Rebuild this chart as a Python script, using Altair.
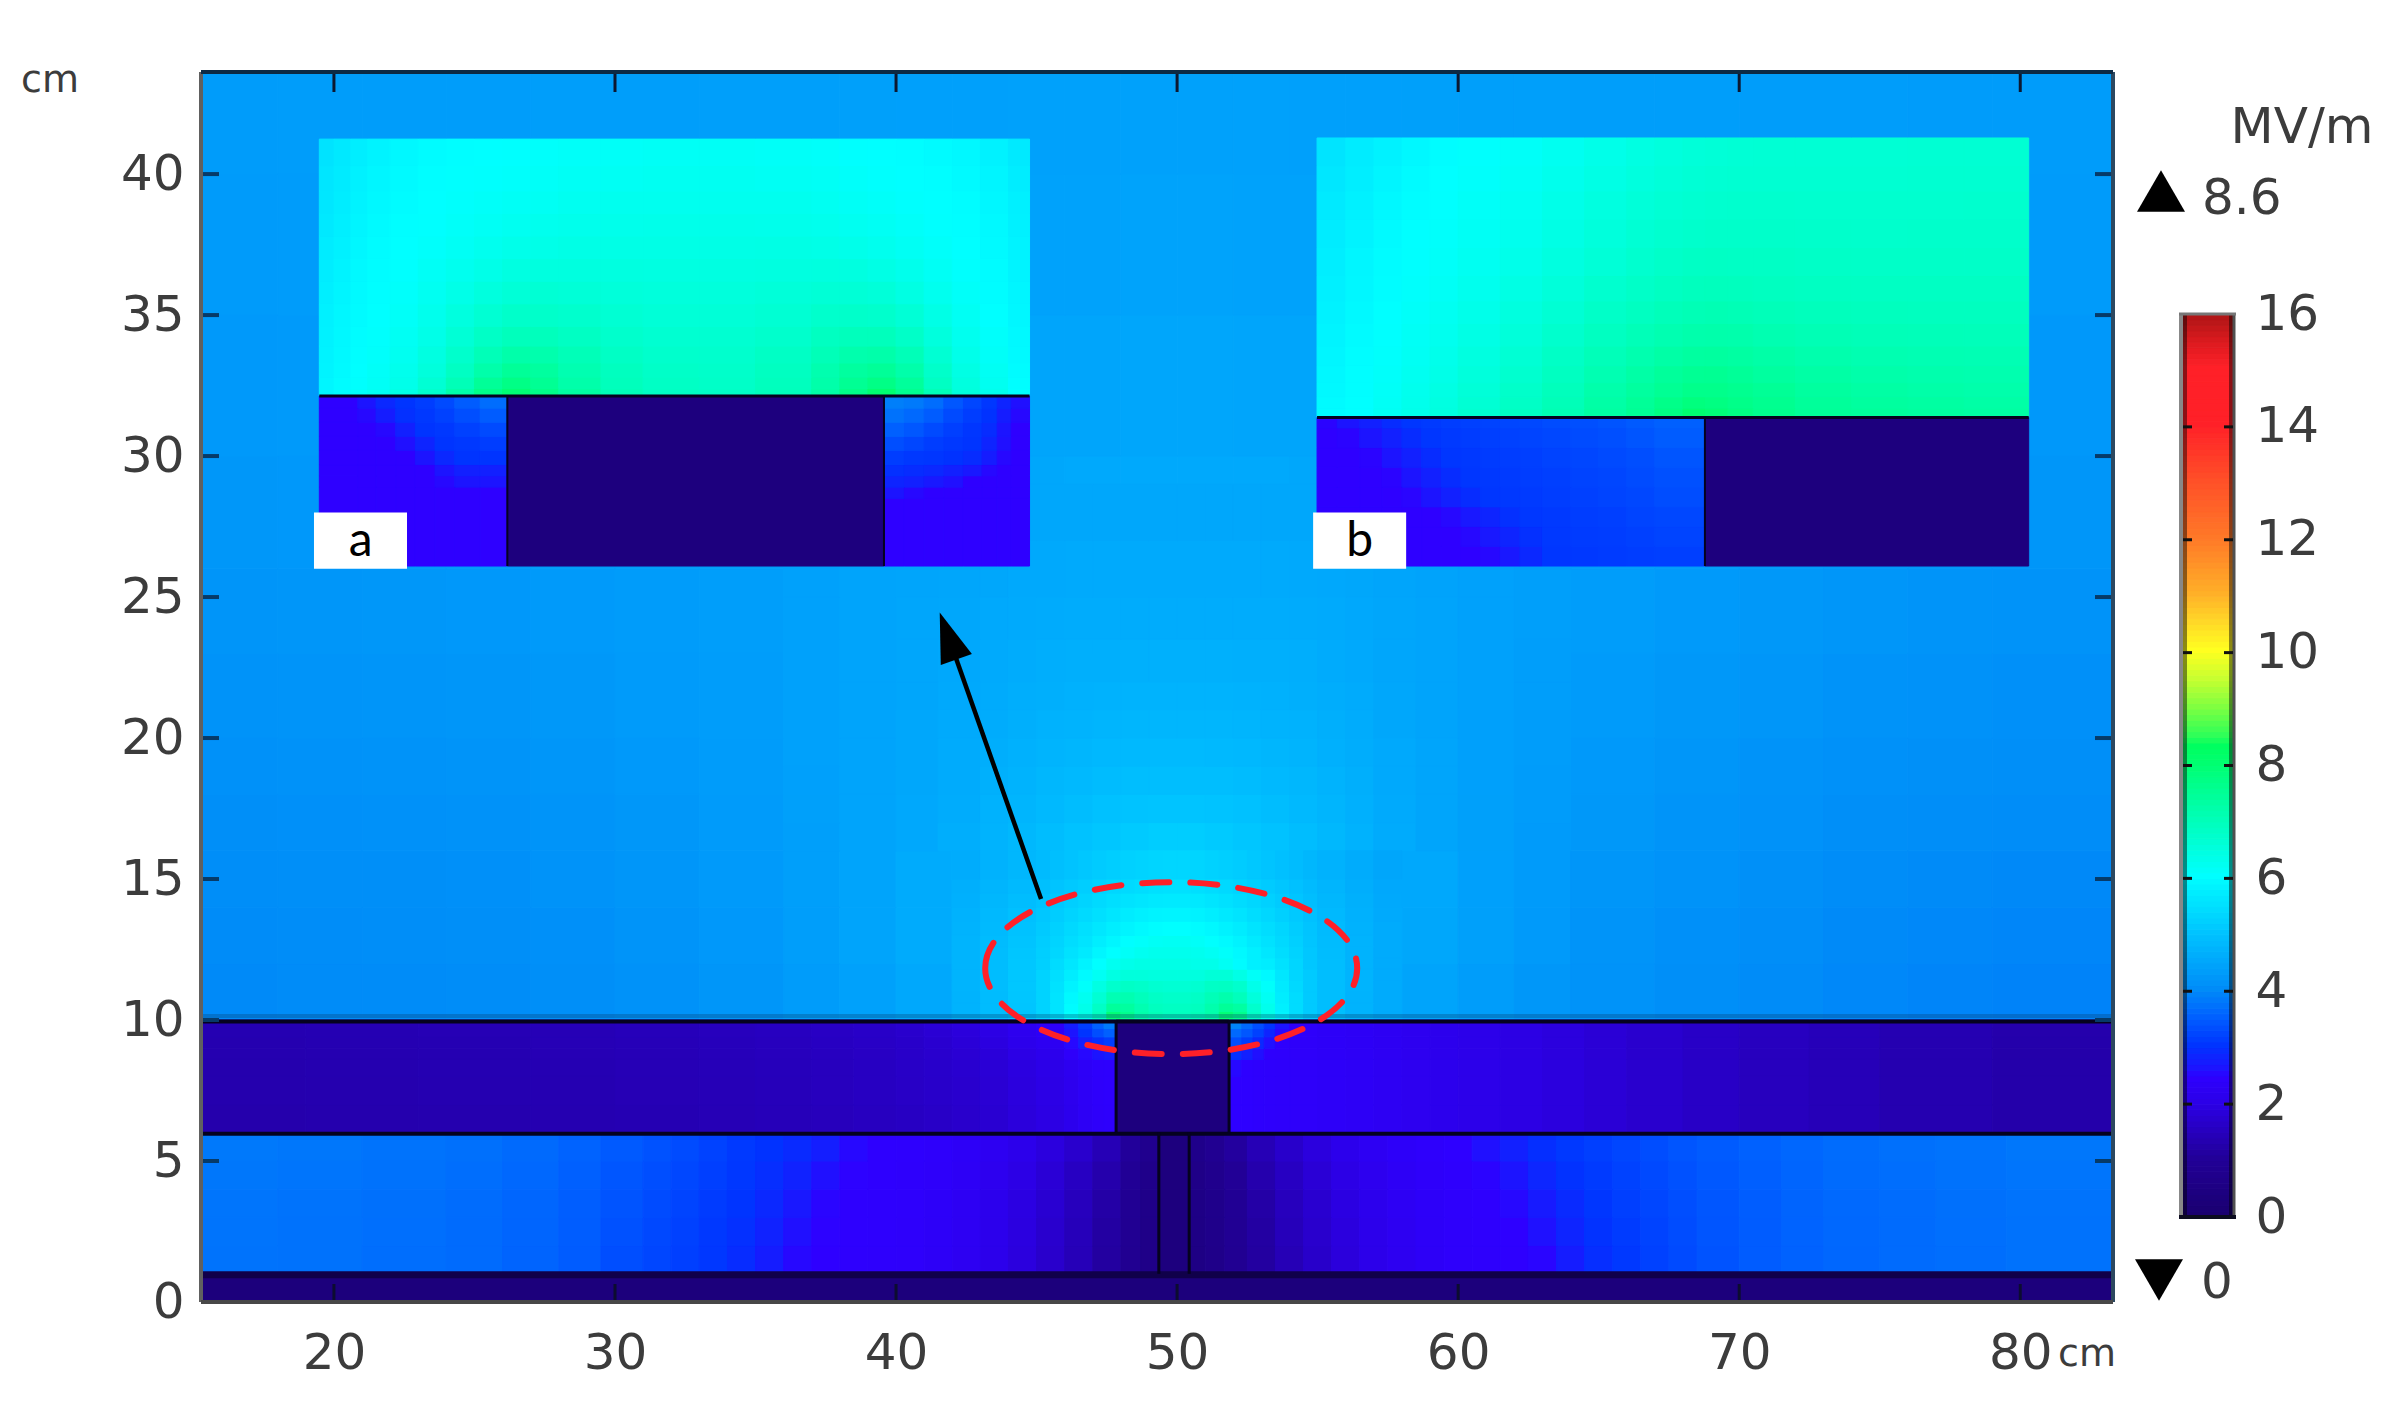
import altair as alt
import pandas as pd

# ---- colour ramp (MV/m -> colour)
STOPS = [0, 1, 2, 2.45, 2.55, 3, 3.5, 4, 5, 6, 7, 8, 8.3, 8.5, 9, 9.5, 10, 10.5, 11, 12, 13, 14, 15, 15.5, 16]
COLORS = ["#1a0070", "#220098", "#2c00e8", "#2e00ff", "#2010ff", "#0034ff", "#0060ff", "#008cf8", "#00c4ff", "#00ffff",
          "#00ffb8", "#00ff70", "#00ff60", "#30ff58", "#80ff40", "#c8ff30", "#ffff20", "#ffd828", "#ffb028", "#ff7828",
          "#ff5028", "#ff2028", "#ff2028", "#d81a1e", "#a81515"]

# ---- far field of the air region
AIR_X = [15.27, 18, 21, 24, 27, 30, 33, 36, 38, 40, 42, 44, 46, 48, 50, 52, 54, 56, 58, 60, 62, 64, 67, 70, 73, 76, 79, 83.3]
AIR_Y = [10, 12, 14, 16, 18, 20, 23, 26, 30, 35, 40, 43.62]
AIR_V = [
 [3.98,4.0,4.0,4.02,4.05,4.1,4.18,4.28,4.38,4.5,4.68,5.0,5.8,6.3,6.3,5.8,5.0,4.65,4.42,4.3,4.2,4.12,4.05,4.0,3.95,3.92,3.9],
 [4.0,4.02,4.03,4.05,4.08,4.14,4.22,4.32,4.42,4.55,4.75,5.1,5.6,5.9,5.9,5.6,5.1,4.72,4.48,4.35,4.25,4.15,4.08,4.03,3.98,3.95,3.93],
 [4.03,4.05,4.06,4.08,4.12,4.17,4.25,4.34,4.43,4.55,4.72,4.95,5.2,5.35,5.35,5.2,4.95,4.7,4.5,4.36,4.27,4.18,4.12,4.07,4.02,3.99,3.97],
 [4.06,4.08,4.09,4.11,4.15,4.2,4.27,4.35,4.43,4.53,4.66,4.8,4.95,5.05,5.05,4.95,4.8,4.65,4.5,4.38,4.29,4.21,4.15,4.1,4.06,4.03,4.01],
 [4.09,4.11,4.12,4.15,4.18,4.23,4.29,4.37,4.43,4.51,4.6,4.7,4.8,4.87,4.87,4.8,4.7,4.6,4.48,4.39,4.31,4.24,4.18,4.13,4.09,4.07,4.05],
 [4.12,4.14,4.16,4.18,4.21,4.26,4.31,4.38,4.43,4.49,4.55,4.62,4.68,4.72,4.72,4.68,4.62,4.55,4.47,4.39,4.33,4.27,4.21,4.17,4.13,4.1,4.08],
 [4.16,4.18,4.2,4.22,4.25,4.29,4.33,4.38,4.42,4.47,4.51,4.55,4.58,4.6,4.6,4.58,4.55,4.5,4.45,4.4,4.35,4.3,4.25,4.21,4.18,4.15,4.13],
 [4.2,4.22,4.23,4.25,4.28,4.31,4.34,4.38,4.41,4.44,4.47,4.49,4.51,4.52,4.52,4.51,4.49,4.46,4.42,4.39,4.35,4.32,4.28,4.25,4.22,4.2,4.18],
 [4.24,4.25,4.26,4.28,4.3,4.32,4.34,4.37,4.39,4.41,4.43,4.44,4.45,4.46,4.46,4.45,4.44,4.42,4.4,4.37,4.35,4.32,4.3,4.28,4.26,4.24,4.22],
 [4.27,4.28,4.29,4.3,4.31,4.33,4.34,4.36,4.37,4.38,4.39,4.4,4.4,4.41,4.41,4.4,4.4,4.38,4.37,4.36,4.34,4.33,4.31,4.3,4.28,4.27,4.26],
 [4.29,4.3,4.3,4.31,4.32,4.33,4.34,4.34,4.35,4.36,4.36,4.37,4.37,4.37,4.37,4.37,4.36,4.36,4.35,4.34,4.34,4.33,4.32,4.31,4.3,4.29,4.28],
]

# ---- finer readings above the plume
NEAR_X = [36,38,40,41.5,43,44,45,46,47,48,49,50,51,52,53,54,55,56,57,58.5,60,62,64]
NEAR_Y = [16,17,18,19,20,21,22,23.5,25,27,29]
NEAR_V = [
 [4.34,4.42,4.5,4.6,4.7,4.78,4.87,4.96,5.04,5.1,5.15,5.15,5.1,5.04,4.96,4.87,4.78,4.68,4.56,4.45,4.35,4.27],
 [4.35,4.42,4.5,4.58,4.67,4.74,4.81,4.88,4.94,4.98,5.0,5.0,4.98,4.94,4.88,4.81,4.73,4.65,4.54,4.44,4.35,4.28],
 [4.36,4.43,4.49,4.56,4.64,4.7,4.76,4.81,4.86,4.89,4.9,4.9,4.89,4.86,4.81,4.76,4.69,4.62,4.52,4.44,4.36,4.29],
 [4.37,4.43,4.49,4.55,4.61,4.66,4.71,4.75,4.79,4.81,4.82,4.82,4.81,4.79,4.75,4.71,4.65,4.59,4.51,4.44,4.36,4.3],
 [4.37,4.43,4.48,4.53,4.58,4.63,4.67,4.7,4.73,4.75,4.75,4.75,4.75,4.73,4.7,4.67,4.62,4.57,4.49,4.43,4.36,4.31],
 [4.38,4.43,4.47,4.52,4.56,4.6,4.63,4.66,4.68,4.7,4.7,4.7,4.7,4.68,4.66,4.63,4.59,4.55,4.48,4.43,4.37,4.32],
 [4.38,4.43,4.47,4.5,4.54,4.57,4.6,4.62,4.63,4.64,4.64,4.64,4.64,4.63,4.62,4.6,4.56,4.52,4.47,4.42,4.37,4.33],
 [4.38,4.42,4.46,4.49,4.52,4.54,4.56,4.57,4.58,4.58,4.58,4.58,4.58,4.58,4.57,4.56,4.53,4.5,4.46,4.42,4.37,4.34],
 [4.38,4.42,4.45,4.47,4.49,4.51,4.52,4.53,4.53,4.53,4.53,4.53,4.53,4.53,4.53,4.52,4.5,4.48,4.45,4.41,4.37,4.34],
 [4.38,4.41,4.44,4.46,4.47,4.48,4.49,4.49,4.49,4.49,4.49,4.49,4.49,4.49,4.49,4.48,4.47,4.46,4.43,4.4,4.37,4.34],
]

# ---- plume above the central block
PLUME_X = [42,43,44,45,45.5,46,46.5,47,47.5,48,48.5,49,49.5,50,50.5,51,51.5,52,52.5,53,53.5,54,54.5,55,56,57,58]
PLUME_Y = [10,10.3,10.6,11,11.4,11.8,12.2,12.6,13,13.5,14,14.5,15,16]
PLUME_V = [
 [4.7,4.85,5.0,5.25,5.55,6.0,6.35,6.9,7.9,7.6,7.2,7.0,6.9,6.9,7.0,7.2,7.9,7.6,6.8,6.3,5.8,5.4,5.1,4.9,4.7,4.55],
 [4.7,4.85,5.02,5.25,5.55,5.95,6.3,6.8,7.4,7.35,7.1,6.9,6.85,6.85,6.9,7.15,7.45,7.3,6.7,6.25,5.75,5.4,5.1,4.9,4.7,4.55],
 [4.7,4.85,5.03,5.25,5.55,5.9,6.2,6.6,7.05,7.1,6.95,6.8,6.75,6.75,6.8,7.0,7.15,6.95,6.5,6.15,5.7,5.4,5.1,4.9,4.7,4.55],
 [4.72,4.87,5.05,5.25,5.5,5.8,6.05,6.4,6.7,6.8,6.75,6.65,6.6,6.6,6.65,6.8,6.85,6.7,6.3,6.05,5.65,5.35,5.1,4.9,4.72,4.55],
 [4.72,4.88,5.05,5.25,5.45,5.7,5.92,6.15,6.4,6.5,6.5,6.45,6.45,6.45,6.45,6.55,6.55,6.35,6.1,5.9,5.6,5.3,5.1,4.9,4.72,4.55],
 [4.72,4.88,5.05,5.2,5.4,5.6,5.8,6.0,6.2,6.3,6.35,6.35,6.35,6.35,6.3,6.3,6.15,5.95,5.75,5.7,5.5,5.3,5.05,4.9,4.7,4.55],
 [4.72,4.87,5.03,5.18,5.32,5.5,5.65,5.85,6.0,6.1,6.2,6.25,6.25,6.25,6.22,6.15,6.05,5.9,5.75,5.6,5.42,5.25,5.05,4.88,4.7,4.55],
 [4.72,4.85,5.0,5.15,5.27,5.42,5.55,5.72,5.85,5.98,6.05,6.12,6.15,6.15,6.1,6.02,5.92,5.8,5.65,5.5,5.35,5.2,5.02,4.86,4.7,4.55],
 [4.7,4.83,4.97,5.1,5.22,5.35,5.47,5.6,5.72,5.82,5.9,5.96,6.0,6.0,5.95,5.88,5.78,5.68,5.55,5.42,5.3,5.15,5.0,4.84,4.68,4.55],
 [4.68,4.8,4.93,5.05,5.15,5.27,5.38,5.48,5.58,5.67,5.74,5.8,5.82,5.82,5.78,5.72,5.63,5.54,5.43,5.32,5.2,5.08,4.95,4.8,4.66,4.53],
 [4.65,4.77,4.88,4.99,5.08,5.18,5.27,5.37,5.45,5.52,5.58,5.63,5.65,5.65,5.62,5.56,5.49,5.41,5.32,5.22,5.12,5.02,4.9,4.77,4.64,4.52],
 [4.62,4.73,4.83,4.92,5.0,5.09,5.17,5.25,5.32,5.38,5.43,5.47,5.49,5.49,5.46,5.41,5.35,5.28,5.2,5.12,5.03,4.94,4.84,4.73,4.61,4.5],
 [4.58,4.67,4.76,4.84,4.91,4.98,5.05,5.12,5.17,5.22,5.26,5.28,5.3,5.3,5.28,5.24,5.19,5.14,5.07,5.0,4.93,4.85,4.76,4.67,4.57,4.47],
]

# ---- dielectric layer 6-10 cm, left and right of the block
MIDL_X = [15.27,19,23,27,30,33,35,37,38.5,40,41,42,43,44,45,46,46.5,47,47.4,47.83]
MIDR_X = [51.85,52.3,52.7,53.1,53.5,54,55,56,57,58,59,60,61.5,63,64.5,66,68,70,72.5,75,79,83.3]
MID_Y = [6,7,8,8.6,9,9.4,9.7,10]
MIDL_V = [
 [1.25,1.27,1.29,1.31,1.34,1.37,1.41,1.45,1.5,1.54,1.59,1.65,1.72,1.85,1.95,2.1,2.25,2.35,2.4],
 [1.27,1.29,1.31,1.33,1.36,1.39,1.43,1.47,1.52,1.57,1.62,1.68,1.75,1.88,1.98,2.12,2.27,2.37,2.42],
 [1.28,1.3,1.32,1.34,1.37,1.4,1.44,1.48,1.53,1.59,1.64,1.7,1.78,1.9,2.0,2.15,2.3,2.4,2.42],
 [1.3,1.31,1.33,1.36,1.39,1.42,1.46,1.5,1.55,1.61,1.67,1.75,1.83,1.97,2.1,2.35,2.5,2.6,2.7],
 [1.3,1.32,1.34,1.37,1.4,1.44,1.48,1.52,1.57,1.63,1.7,1.8,1.9,2.07,2.2,2.5,2.75,2.95,3.1],
 [1.32,1.34,1.36,1.38,1.42,1.46,1.5,1.55,1.6,1.66,1.75,1.85,1.96,2.13,2.3,2.6,3.0,3.3,3.5],
 [1.33,1.35,1.38,1.4,1.44,1.48,1.53,1.58,1.63,1.7,1.8,1.9,2.0,2.2,2.35,2.7,3.1,3.5,3.8],
]
MIDR_V = [
 [2.45,2.45,2.42,2.4,2.38,2.35,2.32,2.28,2.22,2.16,2.1,2.03,1.95,1.87,1.78,1.68,1.58,1.48,1.4,1.3,1.22],
 [2.45,2.45,2.42,2.4,2.38,2.35,2.32,2.28,2.22,2.16,2.1,2.03,1.95,1.87,1.78,1.68,1.58,1.48,1.4,1.3,1.22],
 [2.5,2.45,2.42,2.4,2.38,2.35,2.32,2.28,2.22,2.16,2.1,2.03,1.95,1.87,1.78,1.68,1.58,1.48,1.4,1.3,1.22],
 [2.95,2.75,2.55,2.42,2.4,2.35,2.32,2.28,2.22,2.16,2.1,2.03,1.95,1.87,1.78,1.68,1.58,1.48,1.4,1.31,1.23],
 [3.3,3.1,2.85,2.55,2.42,2.35,2.32,2.28,2.22,2.16,2.1,2.03,1.95,1.87,1.78,1.68,1.59,1.49,1.41,1.31,1.24],
 [3.6,3.4,3.15,2.8,2.5,2.38,2.32,2.28,2.22,2.16,2.1,2.03,1.95,1.87,1.78,1.69,1.59,1.5,1.42,1.32,1.25],
 [3.9,3.6,3.3,3.0,2.6,2.4,2.32,2.28,2.22,2.16,2.1,2.03,1.95,1.87,1.78,1.7,1.6,1.51,1.43,1.33,1.26],
]

# ---- gas gap 1-6 cm, left and right of the posts
LOWL_X = [15.27,18,21,24,26,28,29.5,31,32,33,34,35,36,37,38,39,40,41,42,43,44,45,46,47,48,48.7,49.35]
LOWR_X = [50.43,51,51.7,52.5,53.5,54.5,55.5,56.5,57.5,58.5,59.5,60.5,61.5,62.5,63.5,64.5,65.5,66.5,67.5,68.5,70,71.5,73,75,77,79.5,83.3]
LOW_Y = [1,2,3,4,5,6]
LOWL_V = [
 [3.72,3.7,3.66,3.62,3.55,3.45,3.3,3.2,3.12,3.03,2.9,2.7,2.5,2.45,2.42,2.4,2.37,2.3,2.2,2.05,1.88,1.65,1.4,1.1,0.82,0.6],
 [3.73,3.71,3.67,3.63,3.56,3.47,3.33,3.23,3.15,3.05,2.95,2.78,2.55,2.46,2.43,2.41,2.38,2.31,2.22,2.07,1.9,1.68,1.42,1.12,0.84,0.6],
 [3.74,3.72,3.68,3.64,3.57,3.48,3.36,3.26,3.18,3.08,3.0,2.85,2.65,2.48,2.44,2.42,2.39,2.33,2.24,2.1,1.93,1.72,1.46,1.17,0.87,0.62],
 [3.76,3.74,3.7,3.66,3.59,3.5,3.39,3.3,3.22,3.12,3.03,2.92,2.78,2.55,2.46,2.43,2.4,2.35,2.27,2.14,1.98,1.78,1.53,1.25,0.92,0.66],
 [3.78,3.76,3.72,3.68,3.61,3.53,3.43,3.34,3.26,3.16,3.06,2.98,2.88,2.72,2.5,2.44,2.41,2.37,2.3,2.2,2.06,1.88,1.66,1.38,1.02,0.74],
]
LOWR_V = [
 [0.5,0.62,0.85,1.1,1.38,1.62,1.85,2.03,2.18,2.3,2.37,2.4,2.43,2.48,2.7,2.92,3.05,3.15,3.25,3.35,3.45,3.52,3.58,3.62,3.66,3.7],
 [0.52,0.65,0.87,1.13,1.42,1.66,1.88,2.05,2.2,2.31,2.38,2.41,2.45,2.56,2.8,2.97,3.08,3.17,3.27,3.37,3.46,3.53,3.59,3.63,3.67,3.71],
 [0.55,0.68,0.9,1.18,1.46,1.7,1.92,2.09,2.23,2.33,2.4,2.43,2.5,2.68,2.88,3.02,3.12,3.2,3.3,3.39,3.47,3.54,3.6,3.64,3.68,3.72],
 [0.58,0.72,0.96,1.26,1.52,1.77,1.98,2.14,2.27,2.36,2.42,2.47,2.6,2.82,2.97,3.07,3.16,3.24,3.33,3.41,3.49,3.56,3.62,3.66,3.7,3.74],
 [0.66,0.82,1.08,1.38,1.64,1.88,2.08,2.22,2.33,2.39,2.45,2.55,2.75,2.93,3.04,3.13,3.21,3.28,3.37,3.44,3.51,3.58,3.64,3.68,3.72,3.76],
]

# ---- uniform solid parts: x0, x1, y0, y1, value
SOLIDS = [
 [15.27,83.3,0,1,0.3],
 [47.83,51.85,6,10,0.35],
 [49.35,50.43,1,6,0.35],
 [26.17,39.57,26.1,32.13,0.35],
 [68.78,80.3,26.1,31.37,0.35],
]

# ---- inset a
INA_X = [19.48,20.0,20.6,21.2,22,23,24,25,26,27,28,29.5,31,33,35,37,38,39,40,41,42,43,44,44.75]
INA_Y = [32.13,32.4,32.8,33.3,33.9,34.6,35.4,36.2,37,37.8,38.6,39.4,40.3,41.24]
INA_V = [
 [5.85,5.95,6.05,6.15,6.35,6.7,7.2,7.65,7.95,7.65,7.3,7.0,6.85,6.8,6.95,7.25,7.65,8.0,7.55,7.0,6.5,6.25,6.0],
 [5.85,5.95,6.03,6.13,6.3,6.6,7.0,7.45,7.7,7.5,7.2,6.95,6.82,6.78,6.92,7.2,7.5,7.7,7.4,6.85,6.45,6.2,5.98],
 [5.82,5.92,6.0,6.1,6.25,6.5,6.85,7.2,7.45,7.35,7.1,6.9,6.78,6.75,6.88,7.12,7.35,7.45,7.2,6.75,6.38,6.15,5.95],
 [5.8,5.9,5.98,6.06,6.2,6.42,6.72,7.0,7.2,7.15,7.0,6.82,6.72,6.7,6.82,7.0,7.15,7.2,7.0,6.62,6.3,6.1,5.92],
 [5.78,5.88,5.96,6.03,6.15,6.33,6.58,6.8,6.95,6.95,6.85,6.72,6.65,6.65,6.72,6.88,6.95,6.95,6.78,6.48,6.22,6.05,5.9],
 [5.76,5.86,5.94,6.0,6.1,6.25,6.45,6.62,6.75,6.75,6.7,6.62,6.57,6.57,6.62,6.72,6.75,6.72,6.58,6.35,6.15,6.0,5.87],
 [5.73,5.83,5.92,5.98,6.05,6.18,6.33,6.47,6.57,6.6,6.57,6.52,6.5,6.5,6.53,6.58,6.58,6.53,6.4,6.23,6.08,5.97,5.84],
 [5.7,5.8,5.9,5.97,6.02,6.12,6.23,6.33,6.42,6.45,6.45,6.43,6.42,6.42,6.44,6.45,6.43,6.37,6.27,6.14,6.03,5.95,5.82],
 [5.67,5.77,5.87,5.95,6.0,6.06,6.14,6.22,6.3,6.33,6.35,6.35,6.35,6.35,6.36,6.34,6.3,6.24,6.16,6.07,6.0,5.92,5.8],
 [5.63,5.73,5.83,5.92,5.98,6.02,6.08,6.14,6.2,6.24,6.27,6.28,6.29,6.29,6.28,6.25,6.2,6.15,6.09,6.02,5.98,5.9,5.77],
 [5.6,5.7,5.8,5.88,5.95,6.0,6.04,6.08,6.12,6.16,6.2,6.22,6.23,6.23,6.22,6.18,6.13,6.08,6.03,6.0,5.96,5.87,5.74],
 [5.57,5.66,5.76,5.84,5.92,5.98,6.01,6.03,6.06,6.1,6.14,6.16,6.18,6.18,6.16,6.12,6.07,6.03,6.0,5.98,5.92,5.83,5.7],
 [5.53,5.62,5.72,5.8,5.88,5.95,5.99,6.0,6.02,6.05,6.08,6.1,6.12,6.12,6.1,6.07,6.02,6.0,5.98,5.94,5.88,5.78,5.65],
]
INAL_X = [19.48,20.85,21.5,22.2,22.9,23.6,24.3,25.2,26.17]
INAL_Y = [26.1,28.9,29.3,29.7,30.2,30.7,31.2,31.7,32.13]
INAL_V = [
 [2.45,2.45,2.45,2.45,2.45,2.45,2.45,2.45],
 [2.45,2.45,2.45,2.45,2.45,2.5,2.6,2.6],
 [2.45,2.45,2.45,2.45,2.45,2.6,2.75,2.75],
 [2.45,2.45,2.45,2.45,2.6,2.85,3.0,3.0],
 [2.45,2.45,2.45,2.55,2.8,3.0,3.05,3.1],
 [2.45,2.45,2.5,2.75,3.0,3.05,3.15,3.25],
 [2.45,2.5,2.7,2.95,3.05,3.15,3.3,3.45],
 [2.45,2.6,2.85,3.0,3.1,3.25,3.45,3.65],
]
INAR_X = [39.57,40.3,41,41.7,42.4,43.06,43.6,44.1,44.75]
INAR_Y = [26.1,28.5,28.9,29.3,29.7,30.2,30.7,31.2,31.7,32.13]
INAR_V = [
 [2.45,2.45,2.45,2.45,2.45,2.45,2.45,2.45],
 [2.6,2.5,2.45,2.45,2.45,2.45,2.45,2.45],
 [2.8,2.75,2.65,2.55,2.45,2.45,2.45,2.45],
 [2.95,2.9,2.85,2.75,2.65,2.5,2.45,2.45],
 [3.1,3.05,3.02,2.98,2.9,2.7,2.5,2.45],
 [3.3,3.2,3.1,3.05,3.0,2.8,2.55,2.45],
 [3.5,3.4,3.25,3.12,3.02,2.9,2.6,2.45],
 [3.7,3.6,3.45,3.25,3.1,2.98,2.7,2.5],
 [3.85,3.8,3.65,3.4,3.2,3.03,2.8,2.55],
]

# ---- inset b
INB_X = [54.98,56,57,58,59,60,61.5,63,64.5,66,67,68,68.8,69.6,70.5,72,74,76,78,80.3]
INB_Y = [31.37,31.7,32.1,32.6,33.2,33.9,34.7,35.5,36.4,37.4,38.4,39.4,40.3,41.28]
INB_V = [
 [5.95,6.0,6.15,6.3,6.45,6.65,6.85,7.05,7.3,7.5,7.75,8.0,7.9,7.75,7.6,7.45,7.4,7.35,7.3],
 [5.93,6.0,6.12,6.27,6.42,6.6,6.8,7.0,7.25,7.45,7.65,7.8,7.75,7.65,7.55,7.42,7.35,7.3,7.25],
 [5.9,5.99,6.1,6.24,6.38,6.55,6.75,6.95,7.18,7.35,7.5,7.62,7.62,7.55,7.47,7.35,7.28,7.22,7.18],
 [5.88,5.98,6.07,6.2,6.33,6.5,6.68,6.88,7.08,7.25,7.4,7.5,7.52,7.45,7.35,7.27,7.2,7.15,7.12],
 [5.85,5.96,6.04,6.15,6.28,6.44,6.6,6.8,6.98,7.13,7.25,7.33,7.35,7.3,7.23,7.15,7.1,7.07,7.05],
 [5.82,5.93,6.02,6.12,6.22,6.37,6.52,6.7,6.87,7.0,7.1,7.17,7.18,7.16,7.1,7.04,7.0,6.98,6.97],
 [5.78,5.9,6.0,6.08,6.18,6.3,6.45,6.6,6.77,6.88,6.97,7.03,7.05,7.03,6.98,6.94,6.91,6.9,6.9],
 [5.75,5.87,5.97,6.04,6.13,6.24,6.38,6.52,6.67,6.78,6.86,6.91,6.93,6.92,6.89,6.86,6.84,6.84,6.84],
 [5.72,5.84,5.95,6.02,6.09,6.18,6.3,6.44,6.57,6.68,6.76,6.81,6.83,6.82,6.81,6.79,6.78,6.78,6.78],
 [5.68,5.8,5.92,6.0,6.05,6.14,6.24,6.37,6.5,6.6,6.67,6.72,6.74,6.75,6.74,6.73,6.72,6.73,6.73],
 [5.64,5.76,5.88,5.97,6.02,6.1,6.19,6.31,6.43,6.53,6.6,6.65,6.68,6.69,6.69,6.68,6.68,6.68,6.69],
 [5.6,5.72,5.83,5.93,6.0,6.06,6.14,6.25,6.37,6.47,6.54,6.59,6.62,6.64,6.64,6.64,6.64,6.65,6.65],
 [5.55,5.68,5.78,5.88,5.97,6.03,6.1,6.2,6.31,6.41,6.48,6.53,6.57,6.59,6.6,6.6,6.6,6.62,6.62],
]
INBL_X = [54.98,55.7,56.5,57.3,58,58.7,59.4,60.1,60.8,61.5,62.2,63,64,65,66,67,68.78]
INBL_Y = [26.1,26.8,27.5,28.2,28.9,29.6,30.3,31,31.37]
INBL_V = [
 [2.45,2.45,2.45,2.45,2.45,2.45,2.45,2.45,2.5,2.65,2.85,3.02,3.05,3.08,3.1,3.12],
 [2.45,2.45,2.45,2.45,2.45,2.45,2.45,2.5,2.65,2.8,2.95,3.05,3.08,3.1,3.14,3.18],
 [2.45,2.45,2.45,2.45,2.45,2.45,2.5,2.65,2.8,2.95,3.03,3.06,3.1,3.13,3.18,3.22],
 [2.45,2.45,2.45,2.45,2.48,2.6,2.75,2.9,3.02,3.05,3.07,3.1,3.14,3.18,3.22,3.28],
 [2.45,2.45,2.45,2.47,2.6,2.75,2.9,3.02,3.05,3.07,3.1,3.13,3.17,3.21,3.26,3.32],
 [2.45,2.45,2.47,2.6,2.75,2.9,3.02,3.05,3.08,3.1,3.13,3.17,3.2,3.25,3.3,3.38],
 [2.45,2.47,2.6,2.75,2.9,3.02,3.06,3.09,3.12,3.15,3.18,3.22,3.26,3.31,3.37,3.45],
 [2.47,2.6,2.75,2.9,3.02,3.07,3.1,3.14,3.17,3.2,3.23,3.27,3.31,3.36,3.43,3.5],
]

X_TICKS = [20, 30, 40, 50, 60, 70, 80]
Y_TICKS = [0, 5, 10, 15, 20, 25, 30, 35, 40]
BAR_TICKS = [0, 2, 4, 6, 8, 10, 12, 14, 16]
BAR_INNER_TICKS = [2, 4, 6, 8, 10, 12, 14]

# structural lines: x0, x1, y0, y1, stroke width
STRUCT = [
 [15.27,83.3,9.95,9.95,4], [15.27,83.3,5.97,5.97,4],
 [47.83,47.83,6,10,3], [51.85,51.85,6,10,3],
 [49.35,49.35,1,6,3], [50.43,50.43,1,6,3],
 [19.48,44.75,32.13,32.13,3], [26.17,26.17,26.1,32.13,2], [39.57,39.57,26.1,32.13,2],
 [54.98,80.3,31.37,31.37,3], [68.78,68.78,26.1,31.37,2],
]


def cells(xs, ys, rows):
    assert len(rows) == len(ys) - 1, (len(rows), len(ys))
    out = []
    for j, row in enumerate(rows):
        assert len(row) == len(xs) - 1, (j, len(row), len(xs))
        for i, v in enumerate(row):
            out.append({"x0": xs[i], "x1": xs[i + 1], "y0": ys[j], "y1": ys[j + 1], "v": v})
    return out


rows = []
for xs, ys, vs in [(AIR_X, AIR_Y, AIR_V), (NEAR_X, NEAR_Y, NEAR_V), (PLUME_X, PLUME_Y, PLUME_V),
                   (MIDL_X, MID_Y, MIDL_V), (MIDR_X, MID_Y, MIDR_V),
                   (LOWL_X, LOW_Y, LOWL_V), (LOWR_X, LOW_Y, LOWR_V),
                   (INA_X, INA_Y, INA_V), (INAL_X, INAL_Y, INAL_V), (INAR_X, INAR_Y, INAR_V),
                   (INB_X, INB_Y, INB_V), (INBL_X, INBL_Y, INBL_V)]:
    rows += cells(xs, ys, vs)
for x0, x1, y0, y1, v in SOLIDS:
    rows.append({"x0": x0, "x1": x1, "y0": y0, "y1": y1, "v": v})
field = pd.DataFrame(rows)

XS = alt.Scale(domain=[15.27, 83.3], nice=False, zero=False)
YS = alt.Scale(domain=[0, 43.62], nice=False, zero=False)
CS = alt.Scale(domain=STOPS, range=COLORS, interpolate="rgb", clamp=True)
FONT = "DejaVu Sans"
TXT = "#3c3c3c"
PW, PH = 1912, 1230

heat = alt.Chart(field).mark_rect(strokeWidth=1).encode(
    x=alt.X("x0:Q", scale=XS, title=None,
            axis=alt.Axis(values=X_TICKS, ticks=False, domain=False, grid=False, labelFont=FONT, labelFontSize=50,
                          labelColor=TXT, labelPadding=26, labelFlush=False, labelOverlap=False)),
    x2="x1:Q",
    y=alt.Y("y0:Q", scale=YS, title=None,
            axis=alt.Axis(values=Y_TICKS, ticks=False, domain=False, grid=False, labelFont=FONT, labelFontSize=50,
                          labelColor=TXT, labelPadding=17, labelFlush=False, labelOverlap=False)),
    y2="y1:Q",
    color=alt.Color("v:Q", scale=CS, legend=None),
    stroke=alt.Stroke("v:Q", scale=CS, legend=None),
)


def X(f):
    return alt.X(f, scale=XS, axis=None)


def Y(f):
    return alt.Y(f, scale=YS, axis=None)


struct_df = pd.DataFrame(STRUCT, columns=["x0", "x1", "y0", "y1", "w"])
struct = alt.Chart(struct_df).mark_rule(color="#05021f").encode(
    x=X("x0:Q"), x2="x1:Q", y=Y("y0:Q"), y2="y1:Q",
    strokeWidth=alt.StrokeWidth("w:Q", scale=None))
base_line = alt.Chart(pd.DataFrame({"y": [0.97]})).mark_rule(color="#10004a", strokeWidth=7).encode(y=Y("y:Q"))
glow10 = alt.Chart(pd.DataFrame({"y": [10.14]})).mark_rule(color="#0a3a66", strokeWidth=4, opacity=0.3).encode(y=Y("y:Q"))

xt = pd.DataFrame({"t": X_TICKS})
yt = pd.DataFrame({"t": Y_TICKS})
ticks_top = alt.Chart(xt).mark_rule(color="#0c1830", strokeWidth=3).encode(x=X("t:Q"), y=alt.value(0), y2=alt.value(20))
ticks_bot = alt.Chart(xt).mark_rule(color="#0c0c30", strokeWidth=3).encode(x=X("t:Q"), y=alt.value(PH - 18), y2=alt.value(PH))
ticks_l = alt.Chart(yt).mark_rule(color="#063a68", strokeWidth=4).encode(y=Y("t:Q"), x=alt.value(0), x2=alt.value(18))
ticks_r = alt.Chart(yt).mark_rule(color="#063a68", strokeWidth=4).encode(y=Y("t:Q"), x=alt.value(PW - 18), x2=alt.value(PW))

frame_t = alt.Chart(pd.DataFrame({"y": [43.62]})).mark_rule(color="#0c2a44", strokeWidth=4).encode(y=Y("y:Q"))
frame_b = alt.Chart(pd.DataFrame({"y": [0]})).mark_rule(color="#484848", strokeWidth=4).encode(y=Y("y:Q"))
frame_l = alt.Chart(pd.DataFrame({"x": [15.27]})).mark_rule(color="#606060", strokeWidth=4).encode(x=X("x:Q"))
frame_r = alt.Chart(pd.DataFrame({"x": [83.3]})).mark_rule(color="#2c4860", strokeWidth=4).encode(x=X("x:Q"))

ELLIPSE = "M-1 0C-1 -0.2554 -0.5523 -0.4624 0 -0.4624C0.5523 -0.4624 1 -0.2554 1 0C1 0.2554 0.5523 0.4624 0 0.4624C-0.5523 0.4624 -1 0.2554 -1 0Z"
ellipse = alt.Chart(pd.DataFrame({"x": [49.79], "y": [11.84]})).mark_point(
    shape=ELLIPSE, size=138384, filled=False, stroke="#ff2028", strokeWidth=6, opacity=1,
    strokeDash=[27, 21], strokeCap="round").encode(x=X("x:Q"), y=Y("y:Q"))

shaft = alt.Chart(pd.DataFrame({"x0": [45.16], "x1": [42.03], "y0": [14.29], "y1": [23.12]})).mark_rule(
    color="black", strokeWidth=4.5).encode(x=X("x0:Q"), x2="x1:Q", y=Y("y0:Q"), y2="y1:Q")
head = alt.Chart(pd.DataFrame({"x": [41.85], "y": [23.62]})).mark_point(
    shape="M0 -1L0.66 1L-0.66 1Z", size=2500, angle=340.6, filled=True, color="black", opacity=1).encode(
    x=X("x:Q"), y=Y("y:Q"))

boxes = alt.Chart(pd.DataFrame({"x0": [19.29, 54.84], "x1": [22.6, 58.15], "y0": [26.0, 26.0], "y1": [28.0, 28.0]})).mark_rect(
    color="white").encode(x=X("x0:Q"), x2="x1:Q", y=Y("y0:Q"), y2="y1:Q")
box_txt = alt.Chart(pd.DataFrame({"x": [20.95, 56.5], "y": [26.95, 26.95], "t": ["a", "b"]})).mark_text(
    font="Lato", fontSize=48, color="black", baseline="middle").encode(x=X("x:Q"), y=Y("y:Q"), text="t:N")


def label(txt, px, py, size, align="center", baseline="alphabetic"):
    return alt.Chart(pd.DataFrame({"t": [txt]})).mark_text(
        font=FONT, fontSize=size, color=TXT, align=align, baseline=baseline).encode(
        x=alt.value(px - 201), y=alt.value(py - 72), text="t:N")


texts = [
    label("cm", 50, 92, 38),
    label("cm", 2087, 1366, 38),
    label("MV/m", 2302, 143, 50),
    label("8.6", 2202, 214, 50, align="left"),
    label("0", 2201, 1298, 50, align="left"),
]
up = alt.Chart(pd.DataFrame({"a": [0]})).mark_point(shape="triangle-up", size=2304, filled=True, color="black", opacity=1).encode(
    x=alt.value(2161 - 201), y=alt.value(191 - 72))
down = alt.Chart(pd.DataFrame({"a": [0]})).mark_point(shape="triangle-down", size=2304, filled=True, color="black", opacity=1).encode(
    x=alt.value(2159 - 201), y=alt.value(1280 - 72))

main = alt.layer(heat, glow10, base_line, struct, ticks_top, ticks_bot, ticks_l, ticks_r,
                 frame_l, frame_r, frame_t, frame_b, ellipse, shaft, head, boxes, box_txt, up, down, *texts
                 ).resolve_axis(x="independent", y="independent")

# ---- colour bar, on its own y scale
BARS = alt.Scale(domain=[0, 16], range=[1145, 242], nice=False, zero=False)
bx0, bx1 = 2183 - 201, 2233 - 201
ramp = alt.Chart(alt.sequence(0, 16, 0.1, as_="v")).transform_calculate(top="datum.v + 0.1").mark_rect(strokeWidth=1).encode(
    x=alt.value(bx0), x2=alt.value(bx1),
    y=alt.Y("v:Q", scale=BARS, title=None,
            axis=alt.Axis(orient="right", offset=142, values=BAR_TICKS, ticks=False, domain=False, grid=False,
                          labelFont=FONT, labelFontSize=50, labelColor=TXT, labelPadding=0, labelOverlap=False,
                          labelFlush=False)),
    y2="top:Q",
    color=alt.Color("v:Q", scale=CS, legend=None),
    stroke=alt.Stroke("v:Q", scale=CS, legend=None),
)
BY = alt.Y("t:Q", scale=BARS, axis=None)
bt = pd.DataFrame({"t": BAR_INNER_TICKS})
bar_tl = alt.Chart(bt).mark_rule(color="#101010", strokeWidth=3).encode(y=BY, x=alt.value(bx0), x2=alt.value(bx0 + 9))
bar_tr = alt.Chart(bt).mark_rule(color="#101010", strokeWidth=3).encode(y=BY, x=alt.value(bx1 - 9), x2=alt.value(bx1))
side = pd.DataFrame({"t": [0], "b": [16]})
BY2 = alt.Y("t:Q", scale=BARS, axis=None)
edge_li = alt.Chart(side).mark_rule(color="black", strokeWidth=4, opacity=0.45).encode(x=alt.value(bx0 + 2), y=BY2, y2="b:Q")
edge_ri = alt.Chart(side).mark_rule(color="black", strokeWidth=4, opacity=0.45).encode(x=alt.value(bx1 - 2), y=BY2, y2="b:Q")
edge_lo = alt.Chart(side).mark_rule(color="#888888", strokeWidth=4).encode(x=alt.value(bx0 - 2), y=BY2, y2="b:Q")
edge_ro = alt.Chart(side).mark_rule(color="#505050", strokeWidth=3).encode(x=alt.value(bx1 + 1), y=BY2, y2="b:Q")
top_e = alt.Chart(pd.DataFrame({"t": [16]})).mark_rule(color="#777777", strokeWidth=3).encode(y=BY, x=alt.value(bx0 - 4), x2=alt.value(bx1 + 3))
bot_e = alt.Chart(pd.DataFrame({"t": [0]})).mark_rule(color="#0c0c20", strokeWidth=4).encode(y=BY, x=alt.value(bx0 - 4), x2=alt.value(bx1 + 3))
bar = alt.layer(ramp, edge_li, edge_ri, edge_lo, edge_ro, bar_tl, bar_tr, top_e, bot_e).resolve_axis(y="independent")

chart = alt.layer(main, bar).resolve_scale(x="independent", y="independent").properties(
    width=PW, height=PH,
    autosize=alt.AutoSizeParams(type="none"),
    padding={"left": 193, "top": 64, "right": 276, "bottom": 100},
    background="white",
).configure_view(stroke=None)

chart.save("out.html", embed_options={"renderer": "svg", "actions": False})
